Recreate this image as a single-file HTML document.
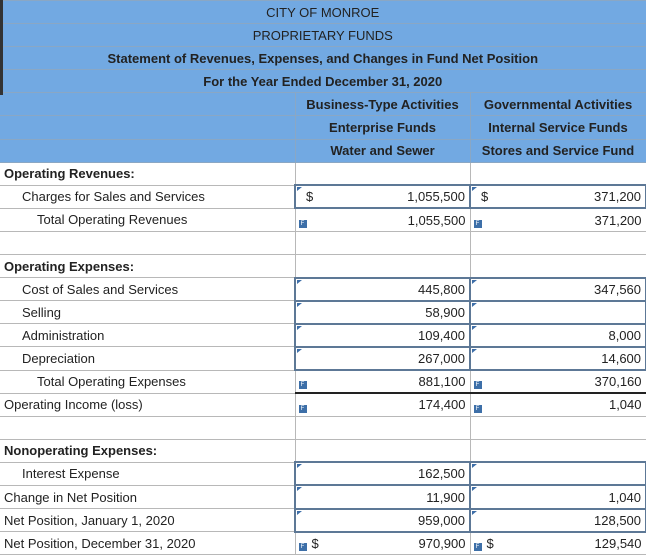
<!DOCTYPE html>
<html><head><meta charset="utf-8">
<style>
body{margin:0;width:646px;height:557px;overflow:hidden;background:#fff;font-family:"Liberation Sans",sans-serif;font-size:13px;color:#222}
table{border-collapse:collapse;table-layout:fixed;width:646px;position:absolute;left:0;top:0}
tr{height:23.1px}
td{height:23.1px;padding:0 4px;border:1px solid #b8b8b8;white-space:nowrap;position:relative;box-sizing:border-box}
td:first-child{border-left:none}
tr.h td{background:#72a9e2;border-color:#8aa7c4;text-align:center}
tr.h.b td{font-weight:bold}
td.r{text-align:right}
td.in{border:2px solid #5d7896}
td.in::before{content:"";position:absolute;left:1px;top:1px;border-left:5px solid #3d6ea8;border-bottom:4px solid transparent}
.f{position:absolute;left:3px;bottom:3px;width:8px;height:8px;background:#3d6fa8;color:#fff;font-size:6px;line-height:8px;text-align:center}
.d{position:absolute;left:10px}
.bt td.v{border-top:2px solid #222}
.strip{position:absolute;left:0;top:0;width:3px;height:95px;background:#333}
</style></head><body>
<table>
<colgroup><col style="width:295px"><col style="width:175px"><col style="width:176px"></colgroup>
<tr class="h"><td colspan="3">CITY OF MONROE</td></tr>
<tr class="h"><td colspan="3">PROPRIETARY FUNDS</td></tr>
<tr class="h b"><td colspan="3">Statement of Revenues, Expenses, and Changes in Fund Net Position</td></tr>
<tr class="h b"><td colspan="3">For the Year Ended December 31, 2020</td></tr>
<tr class="h b"><td></td><td>Business-Type Activities</td><td>Governmental Activities</td></tr>
<tr class="h b"><td></td><td>Enterprise Funds</td><td>Internal Service Funds</td></tr>
<tr class="h b"><td></td><td>Water and Sewer</td><td>Stores and Service Fund</td></tr>
<tr><td style="font-weight:bold">Operating Revenues:</td><td></td><td></td></tr>
<tr><td style="padding-left:22px">Charges for Sales and Services</td><td class="r in"><span class="d">$</span>1,055,500</td><td class="r in"><span class="d">$</span>371,200</td></tr>
<tr class="bt"><td style="padding-left:37px">Total Operating Revenues</td><td class="r v"><span class="f">F</span>1,055,500</td><td class="r v"><span class="f">F</span>371,200</td></tr>
<tr><td></td><td></td><td></td></tr>
<tr><td style="font-weight:bold">Operating Expenses:</td><td></td><td></td></tr>
<tr><td style="padding-left:22px">Cost of Sales and Services</td><td class="r in">445,800</td><td class="r in">347,560</td></tr>
<tr><td style="padding-left:22px">Selling</td><td class="r in">58,900</td><td class="r in"></td></tr>
<tr><td style="padding-left:22px">Administration</td><td class="r in">109,400</td><td class="r in">8,000</td></tr>
<tr><td style="padding-left:22px">Depreciation</td><td class="r in">267,000</td><td class="r in">14,600</td></tr>
<tr class="bt"><td style="padding-left:37px">Total Operating Expenses</td><td class="r v"><span class="f">F</span>881,100</td><td class="r v"><span class="f">F</span>370,160</td></tr>
<tr class="bt"><td>Operating Income (loss)</td><td class="r v"><span class="f">F</span>174,400</td><td class="r v"><span class="f">F</span>1,040</td></tr>
<tr><td></td><td></td><td></td></tr>
<tr><td style="font-weight:bold">Nonoperating Expenses:</td><td></td><td></td></tr>
<tr><td style="padding-left:22px">Interest Expense</td><td class="r in">162,500</td><td class="r in"></td></tr>
<tr><td>Change in Net Position</td><td class="r in">11,900</td><td class="r in">1,040</td></tr>
<tr><td>Net Position, January 1, 2020</td><td class="r in">959,000</td><td class="r in">128,500</td></tr>
<tr class="bt"><td>Net Position, December 31, 2020</td><td class="r v"><span class="f">F</span><span class="d" style="left:16px">$</span>970,900</td><td class="r v"><span class="f">F</span><span class="d" style="left:16px">$</span>129,540</td></tr>
</table>
<div class="strip"></div>
</body></html>
